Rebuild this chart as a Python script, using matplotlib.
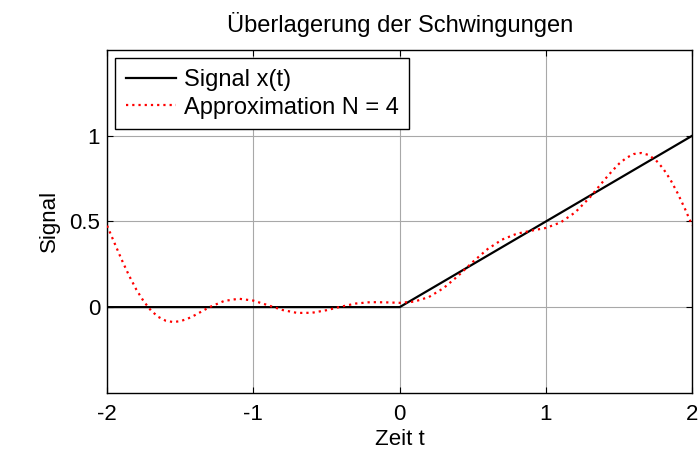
import matplotlib
matplotlib.use("Agg")
import matplotlib.pyplot as plt

plt.rcParams['font.family'] = ['Liberation Sans', 'DejaVu Sans']
plt.rcParams['axes.unicode_minus'] = False

# Signal x(t)
t_signal = [-2.0, 0.0, 2.0]
x_signal = [0.0, 0.0, 1.0]

# Approximation N = 4
t_approx = [-2.0, -1.95, -1.9, -1.85, -1.8, -1.75, -1.7, -1.65, -1.6, -1.55, -1.5, -1.45, -1.4,
            -1.3, -1.2, -1.1, -1.0, -0.9, -0.8, -0.7, -0.6, -0.5, -0.4, -0.3, -0.2, -0.1,
            0.0, 0.1, 0.2, 0.3, 0.4, 0.5, 0.6, 0.7, 0.8, 0.9, 1.0, 1.1, 1.2, 1.3,
            1.4, 1.45, 1.5, 1.55, 1.6, 1.65, 1.7, 1.75, 1.8, 1.85, 1.9, 1.95, 2.0]
x_approx = [0.475, 0.375, 0.276, 0.184, 0.102, 0.034, -0.020, -0.057, -0.079, -0.087, -0.082, -0.068, -0.047,
            0.000, 0.036, 0.049, 0.038, 0.011, -0.017, -0.034, -0.033, -0.018, 0.003, 0.021, 0.029, 0.028,
            0.025, 0.032, 0.059, 0.111, 0.183, 0.264, 0.338, 0.394, 0.428, 0.446, 0.462, 0.494, 0.553, 0.640,
            0.743, 0.792, 0.837, 0.871, 0.893, 0.899, 0.888, 0.858, 0.809, 0.744, 0.664, 0.573, 0.475]

xticks = [-2, -1, 0, 1, 2]
yticks = [0, 0.5, 1]
ytick_labels = ['0', '0.5', '1']

fs = 16
fs_big = 17

fig = plt.figure(figsize=(7, 4.5), dpi=100)
ax = fig.add_axes([0.153, 0.127, 0.836, 0.762])

ax.plot(t_signal, x_signal, color='black', lw=1.6, label='Signal x(t)', zorder=3)
ax.plot(t_approx, x_approx, color='red', lw=1.6, linestyle=(0, (1, 1.8)), label='Approximation N = 4', zorder=4)

ax.set_xlim(-2, 2)
ax.set_ylim(-0.5, 1.5)
ax.set_xticks(xticks)
ax.set_yticks(yticks)
ax.set_yticklabels(ytick_labels)
ax.tick_params(direction='in', length=4, labelsize=fs, top=True, right=True)
ax.tick_params(axis='x', pad=8)
ax.tick_params(axis='y', pad=5)
ax.grid(True, color='#a8a8a8', lw=0.8)
for s in ax.spines.values():
    s.set_linewidth(1.0)

ax.set_title('Überlagerung der Schwingungen', fontsize=fs_big, pad=13)
ax.set_xlabel('Zeit t', fontsize=fs, labelpad=3)
ax.set_ylabel('Signal', fontsize=fs, labelpad=7)

leg = ax.legend(loc='upper left', fontsize=fs_big, handlelength=2.1, handletextpad=0.35, fancybox=False,
                framealpha=1, borderaxespad=0.35, borderpad=0.45, labelspacing=0.25)
leg.get_frame().set_edgecolor('black')
leg.get_frame().set_linewidth(1.0)

fig.savefig('out.png', dpi=100)
